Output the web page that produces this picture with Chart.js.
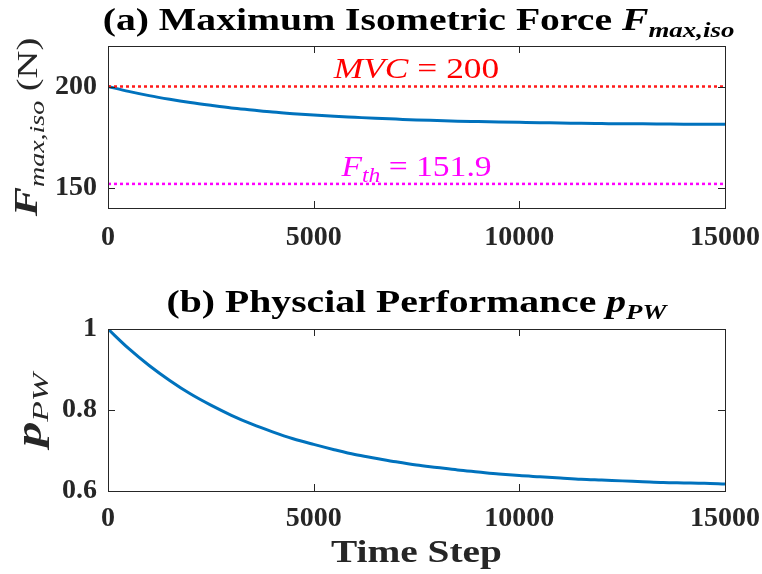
<!DOCTYPE html>
<html><head><meta charset="utf-8">
<script src="https://cdn.jsdelivr.net/npm/chart.js@4/dist/chart.umd.min.js"></script>
<style>
html,body{margin:0;padding:0;background:#fff;}
body{width:762px;height:574px;overflow:hidden;position:relative;}
canvas{position:absolute;left:0;}
</style></head>
<body>
<canvas id="top" width="762" height="270" style="top:0"></canvas>
<canvas id="bot" width="762" height="304" style="top:270px"></canvas>
<script>
// ---------- data ----------
const timeSteps = [0,500,1000,1500,2000,2500,3000,3500,4000,4500,5000,5500,6000,6500,7000,7500,
  8000,8500,9000,9500,10000,10500,11000,11500,12000,12500,13000,13500,14000,14500,15000];
const forceValues = [200.0,197.6,195.5,193.7,192.1,190.7,189.4,188.4,187.4,186.6,185.9,185.3,184.8,184.3,183.9,183.5,
  183.2,182.9,182.7,182.5,182.3,182.1,182.0,181.8,181.7,181.6,181.6,181.5,181.4,181.4,181.3];
const perfValues = [1.000,0.952,0.910,0.873,0.840,0.812,0.787,0.765,0.746,0.729,0.715,0.702,0.690,0.681,0.672,0.664,
  0.658,0.652,0.647,0.642,0.638,0.635,0.632,0.629,0.627,0.625,0.623,0.621,0.620,0.619,0.617];
const mvcValue = 200;
const fthValue = 151.9;
const xTicks = [0,5000,10000,15000];
const forceTicks = [150,200];
const perfTicks = [0.6,0.8,1];

// ---------- helpers ----------
const SERIF = '"Liberation Serif","Times New Roman",serif';
const AXIS = '#262626';
function drawRich(ctx, segs, x, y, opt) {
  opt = opt || {};
  ctx.save();
  let w = 0;
  const widths = segs.map(s => { ctx.font = s.font; const m = ctx.measureText(s.text).width; w += m; return m; });
  ctx.translate(x, y);
  if (opt.rotate) ctx.rotate(opt.rotate);
  const sx = opt.sx || 1;
  ctx.scale(sx, 1);
  let cx = -w / 2;
  ctx.textBaseline = 'alphabetic';
  ctx.textAlign = 'left';
  segs.forEach((s, i) => {
    ctx.font = s.font;
    ctx.fillStyle = s.color || opt.color || '#000';
    ctx.fillText(s.text, cx, s.dy || 0);
    cx += widths[i];
  });
  ctx.restore();
}
function boxPlugin(texts) {
  return {
    id: 'boxAndText',
    afterDraw(chart) {
      const ctx = chart.ctx, a = chart.chartArea;
      const xs = chart.scales.x, ys = chart.scales.y;
      ctx.save();
      ctx.strokeStyle = AXIS; ctx.lineWidth = 1;
      ctx.strokeRect(Math.round(a.left) + 0.5, Math.round(a.top) + 0.5, Math.round(a.right - a.left), Math.round(a.bottom - a.top));
      ctx.beginPath();
      const tl = 7;
      xs.ticks.forEach(t => {
        const px = Math.round(xs.getPixelForValue(t.value)) + 0.5;
        ctx.moveTo(px, a.bottom); ctx.lineTo(px, a.bottom - tl);
        ctx.moveTo(px, a.top); ctx.lineTo(px, a.top + tl);
      });
      ys.ticks.forEach(t => {
        const py = Math.round(ys.getPixelForValue(t.value)) + 0.5;
        ctx.moveTo(a.left, py); ctx.lineTo(a.left + tl, py);
        ctx.moveTo(a.right, py); ctx.lineTo(a.right - tl, py);
      });
      ctx.stroke();
      ctx.restore();
      texts(chart, ctx, a, xs, ys);
    }
  };
}
function fixedTicks(list) {
  return function (scale) { scale.ticks = list.map(v => ({ value: v })); };
}
function baseOptions(yMin, yMax, yTickList, padTop, xAxisH, xTickPad) {
  return {
    responsive: false,
    animation: false,
    events: [],
    layout: { padding: { left: 0, right: 37, top: padTop, bottom: 0 } },
    plugins: { legend: { display: false }, tooltip: { enabled: false } },
    scales: {
      x: {
        type: 'linear', min: 0, max: 15000,
        grid: { display: false, drawTicks: false }, border: { display: false },
        afterBuildTicks: fixedTicks(xTicks),
        afterFit(s) { s.height = xAxisH; s.paddingLeft = 0; s.paddingRight = 0; },
        ticks: { color: AXIS, padding: xTickPad, maxRotation: 0, autoSkip: false,
          font: { family: SERIF, size: 28, weight: 'bold' }, callback: v => String(v) }
      },
      y: {
        type: 'linear', min: yMin, max: yMax,
        grid: { display: false, drawTicks: false }, border: { display: false },
        afterBuildTicks: fixedTicks(yTickList),
        afterFit(s) { s.width = 108; s.paddingTop = 0; s.paddingBottom = 0; },
        ticks: { color: AXIS, padding: 11, autoSkip: false,
          font: { family: SERIF, size: 28, weight: 'bold' }, callback: v => String(v) }
      }
    }
  };
}
function pts(xs, ys) { return xs.map((x, i) => ({ x: x, y: ys[i] })); }

// ---------- top chart ----------
const topOpts = baseOptions(140, 220, forceTicks, 46, 62, 13);
new Chart(document.getElementById('top'), {
  type: 'line',
  data: {
    datasets: [
      { data: [{ x: 0, y: mvcValue }, { x: 15000, y: mvcValue }], borderColor: '#ff1a1a', borderWidth: 2.5,
        borderDash: [3, 3], pointRadius: 0, borderCapStyle: 'butt' },
      { data: [{ x: 0, y: fthValue }, { x: 15000, y: fthValue }], borderColor: '#ff00ff', borderWidth: 2.5,
        borderDash: [3, 3], pointRadius: 0, borderCapStyle: 'butt' },
      { data: pts(timeSteps, forceValues), borderColor: '#0072BD', borderWidth: 3, pointRadius: 0,
        cubicInterpolationMode: 'monotone' }
    ]
  },
  options: topOpts,
  plugins: [boxPlugin(function (chart, ctx, a, xs, ys) {
    const cx = (a.left + a.right) / 2;
    drawRich(ctx, [
      { text: '(a) Maximum Isometric Force ', font: 'bold 31px ' + SERIF },
      { text: 'F', font: 'bold italic 31px ' + SERIF },
      { text: 'max,iso', font: 'bold italic 21px ' + SERIF, dy: 7 }
    ], cx + 2, 30, { sx: 1.28, color: '#000' });
    drawRich(ctx, [
      { text: 'MVC', font: 'italic 30px ' + SERIF },
      { text: ' = 200', font: '30px ' + SERIF }
    ], xs.getPixelForValue(7500), ys.getPixelForValue(mvcValue) - 9, { color: '#ff0000', sx: 1.18 });
    drawRich(ctx, [
      { text: 'F', font: 'italic 30px ' + SERIF },
      { text: 'th', font: 'italic 21px ' + SERIF, dy: 6 },
      { text: ' = 151.9', font: '30px ' + SERIF }
    ], xs.getPixelForValue(7500), ys.getPixelForValue(fthValue) - 8, { color: '#ff00ff', sx: 1.12 });
    drawRich(ctx, [
      { text: 'F', font: 'bold italic 33px ' + SERIF },
      { text: 'max,iso', font: 'italic 21px ' + SERIF, dy: 7 },
      { text: ' (N)', font: '29px ' + SERIF }
    ], 37, 127, { rotate: -Math.PI / 2, color: AXIS, sx: 1.33 });
  })]
});

// ---------- bottom chart ----------
const botOpts = baseOptions(0.6, 1, perfTicks, 59, 83, 11);
new Chart(document.getElementById('bot'), {
  type: 'line',
  data: {
    datasets: [
      { data: pts(timeSteps, perfValues), borderColor: '#0072BD', borderWidth: 3, pointRadius: 0,
        cubicInterpolationMode: 'monotone' }
    ]
  },
  options: botOpts,
  plugins: [boxPlugin(function (chart, ctx, a, xs, ys) {
    const cx = (a.left + a.right) / 2;
    drawRich(ctx, [
      { text: '(b) Physcial Performance ', font: 'bold 31px ' + SERIF },
      { text: 'p', font: 'bold italic 31px ' + SERIF },
      { text: 'PW', font: 'bold italic 21px ' + SERIF, dy: 7 }
    ], cx, 42, { sx: 1.28, color: '#000' });
    drawRich(ctx, [
      { text: 'Time Step', font: 'bold 31px ' + SERIF }
    ], cx, 292, { sx: 1.27, color: AXIS });
    drawRich(ctx, [
      { text: 'p', font: 'bold italic 36px ' + SERIF },
      { text: 'PW', font: 'italic 24px ' + SERIF, dy: 7 }
    ], 41, (a.top + a.bottom) / 2, { rotate: -Math.PI / 2, color: AXIS, sx: 1.4 });
  })]
});
</script>
</body></html>
